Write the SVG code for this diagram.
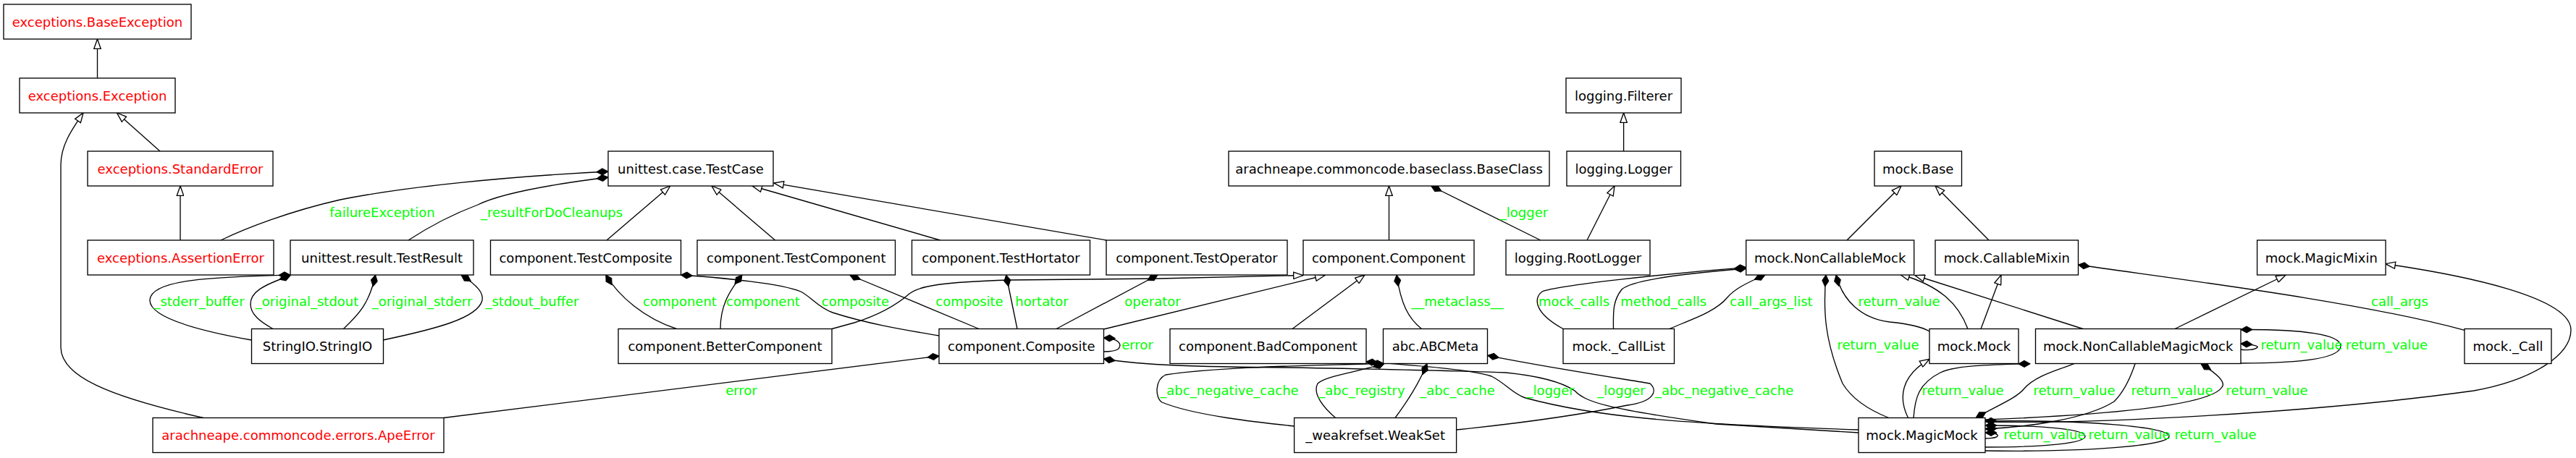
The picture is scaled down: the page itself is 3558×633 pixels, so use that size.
<svg xmlns="http://www.w3.org/2000/svg" width="3558" height="633" viewBox="0 0 3558 633">
<style>
.node rect{fill:#fff;stroke:#000;stroke-width:1.33}
.node text{font-family:"DejaVu Sans",sans-serif;font-size:18px;text-anchor:middle;fill:#000}
.node.exc text{fill:#ff0000}
#edges path{fill:none;stroke:#000;stroke-width:1.33}
#edges path.inh{marker-end:url(#tri)}
#edges path.comp{marker-start:url(#dia)}
#labels text{font-family:"DejaVu Sans",sans-serif;font-size:18px;text-anchor:middle;fill:#00ff00}
</style>
<defs>
<marker id="tri" markerUnits="userSpaceOnUse" markerWidth="15" markerHeight="11" refX="13.3" refY="4.7" orient="auto" viewBox="-1 -1 15 11"><path d="M0,0 L13.3,4.7 L0,9.4 Z" fill="#fff" stroke="#000" stroke-width="1.33"/></marker>
<marker id="dia" markerUnits="userSpaceOnUse" markerWidth="18" markerHeight="12" refX="0" refY="5" orient="auto" viewBox="-1 -1 18 12"><path d="M0,5 L8,0.5 L16,5 L8,9.5 Z" fill="#000" stroke="#000" stroke-width="1"/></marker>
</defs>
<rect width="3558" height="633" fill="#fff"/>
<g id="edges">
<path class="inh" d="M134.5,108 L134.5,54"/>
<path class="inh" d="M221,209 L161.5,156"/>
<path class="inh" d="M249,332 L249,257"/>
<path class="inh" d="M281,577.5 C150,548 84,520 84,480 L84,228 C84,200 100,178 115,156"/>
<path class="inh" d="M838,332 L925.6,257"/>
<path class="inh" d="M1070.6,332 L983,257"/>
<path class="inh" d="M1298.6,332 L1039,257"/>
<path class="inh" d="M1528,332 L1069,253"/>
<path class="inh" d="M1918.5,332 L1918.5,257"/>
<path class="inh" d="M2192,332 L2230,257"/>
<path class="inh" d="M2242.6,209 L2242.6,156"/>
<path class="inh" d="M1524.4,455 L1830,380.5"/>
<path class="inh" d="M1149,454.5 L1180,446 C1215,435 1240,420 1256,406 C1270,395 1300,390 1394,387 L1601,385 L1800,380.5"/>
<path class="inh" d="M1785,454.5 L1885,380"/>
<path class="inh" d="M2551,332 L2626,257"/>
<path class="inh" d="M2747,332 L2673,257"/>
<path class="inh" d="M2718,454.5 C2705,420 2680,395 2624,379"/>
<path class="inh" d="M2877,454.5 L2645,380.5"/>
<path class="inh" d="M2736,454.5 L2764,380"/>
<path class="inh" d="M2635.5,577.5 C2622,550 2625,520 2665,496.3"/>
<path class="inh" d="M3004,454.5 L3157,380"/>
<path class="inh" d="M2742,583 C2900,586 3200,570 3417,540 C3500,525 3551,490 3551,456 C3551,410 3400,380 3295,364.7"/>
<path class="comp" d="M840,237 C700,244 560,258 470,276 C400,292 340,315 305,332"/>
<path class="comp" d="M840,245 C760,255 690,268 660,283 C620,298 590,315 564,332"/>
<path class="comp" d="M401,380 C300,383 210,385 207,414 C205,440 280,458 347.5,470"/>
<path class="comp" d="M401,381 C360,395 346,405 346,420 C346,435 360,445 377,454.5"/>
<path class="comp" d="M518.5,380 C510,420 495,435 474.5,454.5"/>
<path class="comp" d="M637,380 C660,395 668,405 666,415 C660,440 600,455 529,470"/>
<path class="comp" d="M836.8,380 C855,410 890,440 934.4,454.5"/>
<path class="comp" d="M1025,380 C1005,405 995,425 995,454.5"/>
<path class="comp" d="M940.5,380 C1000,384 1080,392 1106,403 C1120,410 1130,425 1150,432 C1200,448 1250,456 1297,464"/>
<path class="comp" d="M1173.6,380 L1352,454.5"/>
<path class="comp" d="M1389.7,380 L1405,454.5"/>
<path class="comp" d="M1599,380 L1459,454.5"/>
<path class="comp" d="M1524.4,467 C1545,468 1550,475 1545,482 C1540,486 1530,486 1524.4,486"/>
<path class="comp" d="M1297,492 L612.6,577.5"/>
<path class="comp" d="M1524.4,496 C1580,505 1650,507 1780,508 C1900,510 2000,512 2080,515 C2130,520 2160,530 2175,540 C2190,556 2220,565 2370,586 L2567,598"/>
<path class="comp" d="M1887,500 C1950,505 2030,510 2060,520 C2080,530 2090,545 2107,550 C2200,575 2300,585 2567,594"/>
<path class="comp" d="M1929,380 C1935,420 1945,440 1963.5,454.5"/>
<path class="comp" d="M1976.6,257 L2127.8,332"/>
<path class="comp" d="M2411.7,369.7 C2300,378 2150,395 2130,403 C2120,410 2115,430 2159,454.5"/>
<path class="comp" d="M2411.7,371 C2300,380 2250,390 2240,400 C2228,415 2228,430 2228.5,454.5"/>
<path class="comp" d="M2438,380 C2410,392 2395,400 2385,412 C2370,430 2340,440 2305.7,454.5"/>
<path class="comp" d="M2870.5,366 C3000,385 3250,415 3404,456.3"/>
<path class="comp" d="M1910.5,502 C1850,505 1700,505 1610,518 C1595,525 1595,550 1605,556 C1650,575 1750,585 1787.6,589"/>
<path class="comp" d="M1912,502.7 C1870,515 1830,520 1820,530 C1812,545 1830,565 1844.6,577.5"/>
<path class="comp" d="M1971,502.7 C1960,530 1940,560 1927,577.5"/>
<path class="comp" d="M2054.7,491.3 C2150,510 2250,525 2279,530 C2290,540 2285,555 2248,560 C2150,580 2050,590 2011.8,594"/>
<path class="comp" d="M2536,380 C2545,415 2570,440 2610,445 C2640,448 2655,452 2665,458"/>
<path class="comp" d="M2522,380 C2518,430 2520,470 2545,530 C2560,555 2590,570 2608.7,577.5"/>
<path class="comp" d="M2804,502.7 C2750,504 2700,505 2680,515 C2650,530 2645,550 2643,577.5"/>
<path class="comp" d="M2729,577.5 C2760,560 2785,550 2795,538 C2810,520 2840,512 2865,502.7"/>
<path class="comp" d="M3040,502.7 C3060,515 3075,528 3069,535 C3060,550 3000,570 2742,580"/>
<path class="comp" d="M2742,593 C2800,590 2880,580 2920,555 C2930,545 2940,530 2949,502.7"/>
<path class="comp" d="M3095,475 C3110,476 3120,478 3118,480 C3115,484 3100,484 3095,483"/>
<path class="comp" d="M3095,455.5 C3180,455 3233,462 3233,478 C3233,495 3180,502 3095,502"/>
<path class="comp" d="M2742,598 C2765,598 2765,606 2742,606"/>
<path class="comp" d="M2742,588 C2830,588 2880,594 2880,603 C2880,612 2830,618 2742,618"/>
<path class="comp" d="M2742,582 C2880,580 2996,590 2996,603 C2996,616 2880,625 2742,623"/>
</g>
<g id="labels">
<text x="528" y="299.5">failureException</text>
<text x="762" y="299.5">_resultForDoCleanups</text>
<text x="275" y="422.5">_stderr_buffer</text>
<text x="424" y="422.5">_original_stdout</text>
<text x="583" y="422.5">_original_stderr</text>
<text x="735" y="422.5">_stdout_buffer</text>
<text x="939" y="422.5">component</text>
<text x="1054" y="422.5">component</text>
<text x="1181.5" y="422.5">composite</text>
<text x="1339" y="422.5">composite</text>
<text x="1439" y="422.5">hortator</text>
<text x="1592" y="422.5">operator</text>
<text x="1571" y="482.8">error</text>
<text x="1024" y="545.5">error</text>
<text x="2013" y="422.5">__metaclass__</text>
<text x="2105" y="299.5">_logger</text>
<text x="2174" y="422.5">mock_calls</text>
<text x="2297.7" y="422.5">method_calls</text>
<text x="2446.5" y="422.5">call_args_list</text>
<text x="3314.5" y="422.5">call_args</text>
<text x="1698" y="545.5">_abc_negative_cache</text>
<text x="1881" y="545.5">_abc_registry</text>
<text x="2013" y="545.5">_abc_cache</text>
<text x="2141.6" y="545.5">_logger</text>
<text x="2239.5" y="545.5">_logger</text>
<text x="2381.6" y="545.5">_abc_negative_cache</text>
<text x="2623" y="422.5">return_value</text>
<text x="2594" y="483">return_value</text>
<text x="2711" y="545.5">return_value</text>
<text x="2865" y="545.5">return_value</text>
<text x="3000" y="545.5">return_value</text>
<text x="3131" y="545.5">return_value</text>
<text x="3179" y="483">return_value</text>
<text x="3296.5" y="483">return_value</text>
<text x="2824" y="606.5">return_value</text>
<text x="2941" y="606.5">return_value</text>
<text x="3060" y="606.5">return_value</text>
</g>
<g id="n1" class="node exc"><rect x="5" y="6" width="259" height="48"/><text x="134.5" y="36.5">exceptions.BaseException</text></g>
<g id="n2" class="node exc"><rect x="27" y="108" width="215" height="48"/><text x="134.5" y="138.5">exceptions.Exception</text></g>
<g id="n3" class="node exc"><rect x="121" y="209" width="256" height="48"/><text x="249" y="239.5">exceptions.StandardError</text></g>
<g id="n4" class="node exc"><rect x="121" y="332" width="257" height="48"/><text x="249.5" y="362.5">exceptions.AssertionError</text></g>
<g id="n5" class="node"><rect x="401" y="332" width="253" height="48"/><text x="527.5" y="362.5">unittest.result.TestResult</text></g>
<g id="n6" class="node"><rect x="347.5" y="454.5" width="182" height="48"/><text x="438.5" y="485">StringIO.StringIO</text></g>
<g id="n7" class="node exc"><rect x="211" y="577.5" width="402" height="48"/><text x="412" y="608">arachneape.commoncode.errors.ApeError</text></g>
<g id="n8" class="node"><rect x="840" y="209" width="228" height="48"/><text x="954" y="239.5">unittest.case.TestCase</text></g>
<g id="n9" class="node"><rect x="677.5" y="332" width="263" height="48"/><text x="809" y="362.5">component.TestComposite</text></g>
<g id="n10" class="node"><rect x="963" y="332" width="273.5" height="48"/><text x="1099.8" y="362.5">component.TestComponent</text></g>
<g id="n11" class="node"><rect x="854" y="454.5" width="295" height="48"/><text x="1001.5" y="485">component.BetterComponent</text></g>
<g id="n12" class="node"><rect x="1259.5" y="332" width="246" height="48"/><text x="1382.5" y="362.5">component.TestHortator</text></g>
<g id="n13" class="node"><rect x="1528" y="332" width="250" height="48"/><text x="1653" y="362.5">component.TestOperator</text></g>
<g id="n14" class="node"><rect x="1297" y="454.5" width="227.5" height="48"/><text x="1410.8" y="485">component.Composite</text></g>
<g id="n15" class="node"><rect x="1616" y="454.5" width="271" height="48"/><text x="1751.5" y="485">component.BadComponent</text></g>
<g id="n16" class="node"><rect x="1697" y="209" width="443" height="48"/><text x="1918.5" y="239.5">arachneape.commoncode.baseclass.BaseClass</text></g>
<g id="n17" class="node"><rect x="2163" y="108" width="159" height="48"/><text x="2242.5" y="138.5">logging.Filterer</text></g>
<g id="n18" class="node"><rect x="2164" y="209" width="157.5" height="48"/><text x="2242.8" y="239.5">logging.Logger</text></g>
<g id="n19" class="node"><rect x="1800" y="332" width="236" height="48"/><text x="1918" y="362.5">component.Component</text></g>
<g id="n20" class="node"><rect x="2080" y="332" width="199" height="48"/><text x="2179.5" y="362.5">logging.RootLogger</text></g>
<g id="n21" class="node"><rect x="1910.5" y="454.5" width="144" height="48"/><text x="1982.5" y="485">abc.ABCMeta</text></g>
<g id="n22" class="node"><rect x="2159" y="454.5" width="153.5" height="48"/><text x="2235.8" y="485">mock._CallList</text></g>
<g id="n23" class="node"><rect x="1787.6" y="577.5" width="224" height="48"/><text x="1899.6" y="608">_weakrefset.WeakSet</text></g>
<g id="n24" class="node"><rect x="2589" y="209" width="120.5" height="48"/><text x="2649.2" y="239.5">mock.Base</text></g>
<g id="n25" class="node"><rect x="2411.7" y="332" width="232" height="48"/><text x="2527.7" y="362.5">mock.NonCallableMock</text></g>
<g id="n26" class="node"><rect x="2673" y="332" width="197.5" height="48"/><text x="2771.8" y="362.5">mock.CallableMixin</text></g>
<g id="n27" class="node"><rect x="2665" y="454.5" width="123" height="48"/><text x="2726.5" y="485">mock.Mock</text></g>
<g id="n28" class="node"><rect x="2811.5" y="454.5" width="283.5" height="48"/><text x="2953.2" y="485">mock.NonCallableMagicMock</text></g>
<g id="n29" class="node"><rect x="2567" y="577.5" width="175" height="48"/><text x="2654.5" y="608">mock.MagicMock</text></g>
<g id="n30" class="node"><rect x="3117.6" y="332" width="177.5" height="48"/><text x="3206.3" y="362.5">mock.MagicMixin</text></g>
<g id="n31" class="node"><rect x="3404" y="454.5" width="120" height="48"/><text x="3464" y="485">mock._Call</text></g>
</svg>
